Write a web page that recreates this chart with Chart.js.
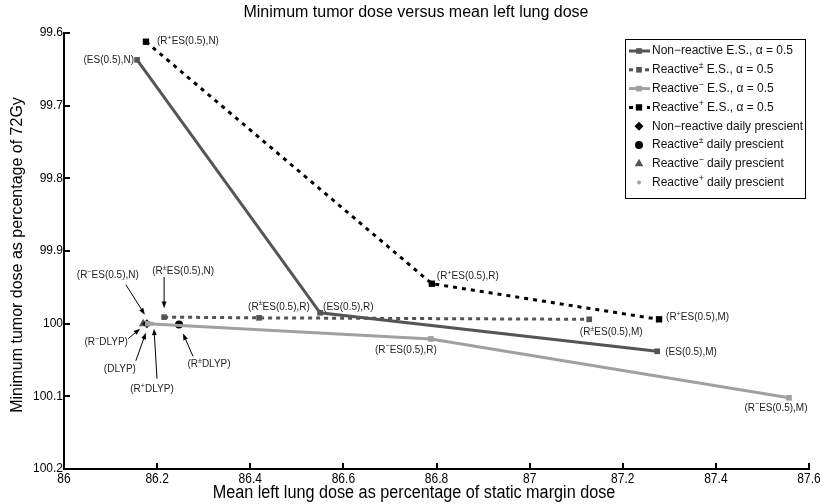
<!DOCTYPE html>
<html>
<head>
<meta charset="utf-8">
<script src="https://cdn.jsdelivr.net/npm/chart.js@4"></script>
<style>
html, body { margin: 0; padding: 0; background: #fff; }
</style>
</head>
<body>
<canvas id="myChart" width="822" height="504"></canvas>
<script>
var xTickValues = [86, 86.2, 86.4, 86.6, 86.8, 87, 87.2, 87.4, 87.6];
var yTickValues = [99.6, 99.7, 99.8, 99.9, 100, 100.1, 100.2];

// efficient-schedule runs: N, R, M points of each policy
var nonReactiveX = [86.157, 86.550, 87.274];
var nonReactiveY = [99.637, 99.985, 100.038];
var reactivePmX = [86.215, 86.419, 87.128];
var reactivePmY = [99.991, 99.992, 99.994];
var reactiveMinusX = [86.180, 86.788, 87.557];
var reactiveMinusY = [100.000, 100.021, 100.102];
var reactivePlusX = [86.176, 86.790, 87.278];
var reactivePlusY = [99.612, 99.945, 99.994];

// daily prescient: non-reactive, reactive±, reactive−, reactive+
var dailyX = [86.178, 86.247, 86.170, 86.189];
var dailyY = [100.000, 100.001, 100.000, 100.000];

var FONT = '"Liberation Sans", Arial, sans-serif';

function pts(xs, ys) {
	return xs.map(function (x, i) { return { x: x, y: ys[i] }; });
}

function fmt(v) {
	return String(Number(v.toFixed(1)));
}

// '^' puts the next character in superscript
function richParts(str) {
	var parts = [];
	for (var i = 0; i < str.length; i++) {
		if (str[i] === '^') {
			parts.push({ t: str[i + 1], sup: true });
			i++;
		} else if (parts.length && !parts[parts.length - 1].sup) {
			parts[parts.length - 1].t += str[i];
		} else {
			parts.push({ t: str[i], sup: false });
		}
	}
	return parts;
}

function drawRich(ctx, str, x, y, size, align) {
	var parts = richParts(str);
	var w = 0;
	parts.forEach(function (p) {
		ctx.font = (p.sup ? size * 0.72 : size) + 'px ' + FONT;
		p.w = ctx.measureText(p.t).width;
		w += p.w;
	});
	var cx = align === 'center' ? x - w / 2 : (align === 'right' ? x - w : x);
	ctx.textAlign = 'left';
	ctx.textBaseline = 'middle';
	parts.forEach(function (p) {
		ctx.font = (p.sup ? size * 0.72 : size) + 'px ' + FONT;
		ctx.fillText(p.t, cx, p.sup ? y - size * 0.35 : y);
		cx += p.w;
	});
}

// condensed text, squeezed horizontally around its centre
function drawNarrow(ctx, str, x, y, size, squeeze) {
	ctx.save();
	ctx.translate(x, y);
	ctx.scale(squeeze, 1);
	ctx.font = size + 'px ' + FONT;
	ctx.textAlign = 'center';
	ctx.textBaseline = 'middle';
	ctx.fillText(str, 0, 0);
	ctx.restore();
}

function drawArrow(ctx, x1, y1, x2, y2) {
	var a = Math.atan2(y2 - y1, x2 - x1), h = 7;
	ctx.beginPath();
	ctx.moveTo(x1, y1);
	ctx.lineTo(x2 - Math.cos(a) * h * 0.7, y2 - Math.sin(a) * h * 0.7);
	ctx.stroke();
	ctx.beginPath();
	ctx.moveTo(x2, y2);
	ctx.lineTo(x2 - h * Math.cos(a - 0.35), y2 - h * Math.sin(a - 0.35));
	ctx.lineTo(x2 - h * Math.cos(a + 0.35), y2 - h * Math.sin(a + 0.35));
	ctx.closePath();
	ctx.fill();
}

// point labels: text, dataset, point, label dx/dy, alignment, optional arrow [tail dx, dy, tip dx, dy]
var notes = [
	['(ES(0.5),N)', 0, 0, -3, 0, 'right'],
	['(ES(0.5),R)', 0, 1, 3, -6, 'left'],
	['(ES(0.5),M)', 0, 2, 8, 1, 'left'],
	['(R^±ES(0.5),N)', 1, 0, 19, -46, 'center', [0, -40, 0, -9]],
	['(R^±ES(0.5),R)', 1, 1, -11, -11, 'left'],
	['(R^±ES(0.5),M)', 1, 2, 22, 13, 'center'],
	['(R^−ES(0.5),N)', 2, 0, -40, -48, 'center', [-22, -39, -3, -9]],
	['(R^−ES(0.5),R)', 2, 1, -25, 11, 'center'],
	['(R^−ES(0.5),M)', 2, 2, -13, 10, 'center'],
	['(R^+ES(0.5),N)', 3, 0, 11, 0, 'left'],
	['(R^+ES(0.5),R)', 3, 1, 5, -7, 'left'],
	['(R^+ES(0.5),M)', 3, 2, 7, -2, 'left'],
	['(DLYP)', 4, 0, -27, 46, 'center', [-11, 37, -1, 9]],
	['(R^±DLYP)', 5, 0, 30, 40, 'center', [14, 32, 4, 9]],
	['(R^−DLYP)', 6, 0, -37, 19, 'center', [-15, 15, -3, 5]],
	['(R^+DLYP)', 7, 0, 0, 66, 'center', [5, 55, 2, 5]]
];

var legendNames = [
	'Non−reactive E.S., α = 0.5',
	'Reactive^± E.S., α = 0.5',
	'Reactive^− E.S., α = 0.5',
	'Reactive^+ E.S., α = 0.5',
	'Non−reactive daily prescient',
	'Reactive^± daily prescient',
	'Reactive^− daily prescient',
	'Reactive^+ daily prescient'
];

var extras = {
	id: 'extras',
	afterDraw: function (chart) {
		var ctx = chart.ctx;
		var area = chart.chartArea;
		var xs = chart.scales.x, ys = chart.scales.y;
		ctx.save();

		// inward tick marks
		ctx.strokeStyle = '#000';
		ctx.lineWidth = 2;
		xs.ticks.forEach(function (t) {
			var px = Math.round(xs.getPixelForValue(t.value));
			ctx.beginPath();
			ctx.moveTo(px, area.bottom);
			ctx.lineTo(px, area.bottom - 6);
			ctx.stroke();
		});
		ys.ticks.forEach(function (t) {
			var py = Math.round(ys.getPixelForValue(t.value));
			ctx.beginPath();
			ctx.moveTo(area.left, py);
			ctx.lineTo(area.left + 6, py);
			ctx.stroke();
		});

		// x tick labels in a condensed face
		ctx.fillStyle = '#000';
		xs.ticks.forEach(function (t) {
			drawNarrow(ctx, fmt(t.value), xs.getPixelForValue(t.value), area.bottom + 10, 15, 0.8);
		});

		// titles
		ctx.textAlign = 'center';
		ctx.textBaseline = 'middle';
		ctx.font = '16px ' + FONT;
		ctx.fillText('Minimum tumor dose versus mean left lung dose', 416, 13);
		drawNarrow(ctx, 'Mean left lung dose as percentage of static margin dose', 414, 493, 18, 0.9);
		ctx.save();
		ctx.translate(18, 255);
		ctx.rotate(-Math.PI / 2);
		ctx.font = '16px ' + FONT;
		ctx.textAlign = 'center';
		ctx.textBaseline = 'middle';
		ctx.fillText('Minimum tumor dose as percentage of 72Gy', 0, 0);
		ctx.restore();

		// point labels and arrows
		ctx.strokeStyle = '#000';
		ctx.lineWidth = 1;
		notes.forEach(function (n) {
			var p = chart.data.datasets[n[1]].data[n[2]];
			var px = xs.getPixelForValue(p.x), py = ys.getPixelForValue(p.y);
			ctx.fillStyle = '#222';
			drawRich(ctx, n[0], px + n[3], py + n[4], 10, n[5]);
			if (n[6]) {
				ctx.fillStyle = '#000';
				drawArrow(ctx, px + n[6][0], py + n[6][1], px + n[6][2], py + n[6][3]);
			}
		});

		// legend box
		var lx = 625, ly = 39, lw = 180, lh = 159;
		ctx.fillStyle = '#fff';
		ctx.fillRect(lx, ly, lw, lh);
		ctx.strokeStyle = '#000';
		ctx.lineWidth = 1;
		ctx.strokeRect(lx + 0.5, ly + 0.5, lw, lh);
		chart.data.datasets.forEach(function (ds, i) {
			var y = 51 + i * 18.8;
			ctx.save();
			if (ds.showLine !== false) {
				ctx.strokeStyle = ds.borderColor;
				ctx.lineWidth = ds.borderWidth;
				ctx.setLineDash(ds.borderDash || []);
				ctx.beginPath();
				ctx.moveTo(629, y);
				ctx.lineTo(650, y);
				ctx.stroke();
				ctx.setLineDash([]);
			}
			ctx.fillStyle = ds.pointBackgroundColor;
			ctx.strokeStyle = ds.pointBackgroundColor;
			Chart.helpers.drawPoint(ctx, {
				pointStyle: ds.pointStyle,
				radius: ds.pointRadius,
				rotation: 0,
				borderWidth: 0
			}, 639, y);
			ctx.restore();
			ctx.fillStyle = '#111';
			drawRich(ctx, legendNames[i], 652, y, 12, 'left');
		});
		ctx.restore();
	}
};

function esSet(xs, ys, color, dash, radius) {
	return {
		data: pts(xs, ys),
		showLine: true,
		borderColor: color,
		borderWidth: 3,
		borderDash: dash,
		pointStyle: 'rect',
		pointRadius: radius,
		pointBackgroundColor: color,
		pointBorderWidth: 0
	};
}

function dailySet(i, style, color, radius) {
	return {
		data: [{ x: dailyX[i], y: dailyY[i] }],
		showLine: false,
		pointStyle: style,
		pointRadius: radius,
		pointBackgroundColor: color,
		pointBorderWidth: 0
	};
}

var ctx = document.getElementById('myChart').getContext('2d');
var myChart = new Chart(ctx, {
	type: 'scatter',
	data: {
		datasets: [
			esSet(nonReactiveX, nonReactiveY, '#555555', [], 4),
			esSet(reactivePmX, reactivePmY, '#555555', [4, 4], 4),
			esSet(reactiveMinusX, reactiveMinusY, '#a0a0a0', [], 4),
			esSet(reactivePlusX, reactivePlusY, '#000000', [4, 5], 4.5),
			dailySet(0, 'rectRot', '#000000', 4.5),
			dailySet(1, 'circle', '#000000', 4),
			dailySet(2, 'triangle', '#555555', 5),
			dailySet(3, 'circle', '#a0a0a0', 2)
		]
	},
	options: {
		responsive: false,
		animation: false,
		layout: { padding: { top: 33, right: 13, left: 0, bottom: 0 } },
		plugins: {
			legend: { display: false },
			tooltip: { enabled: false },
			title: { display: false }
		},
		scales: {
			x: {
				type: 'linear',
				min: 86,
				max: 87.6,
				afterBuildTicks: function (s) {
					s.ticks = xTickValues.map(function (v) { return { value: v }; });
				},
				afterFit: function (s) { s.height = 35; },
				grid: { display: false, drawTicks: false },
				border: { display: true, color: '#000', width: 2 },
				ticks: { display: false }
			},
			y: {
				type: 'linear',
				reverse: true,
				min: 99.6,
				max: 100.2,
				afterBuildTicks: function (s) {
					s.ticks = yTickValues.map(function (v) { return { value: v }; });
				},
				afterFit: function (s) { s.width = 64; },
				grid: { display: false, drawTicks: false },
				border: { display: true, color: '#000', width: 2 },
				ticks: {
					padding: 1,
					autoSkip: false,
					color: '#000',
					font: { family: FONT, size: 12 },
					callback: function (v) { return fmt(v); }
				}
			}
		}
	},
	plugins: [extras]
});
</script>
</body>
</html>
